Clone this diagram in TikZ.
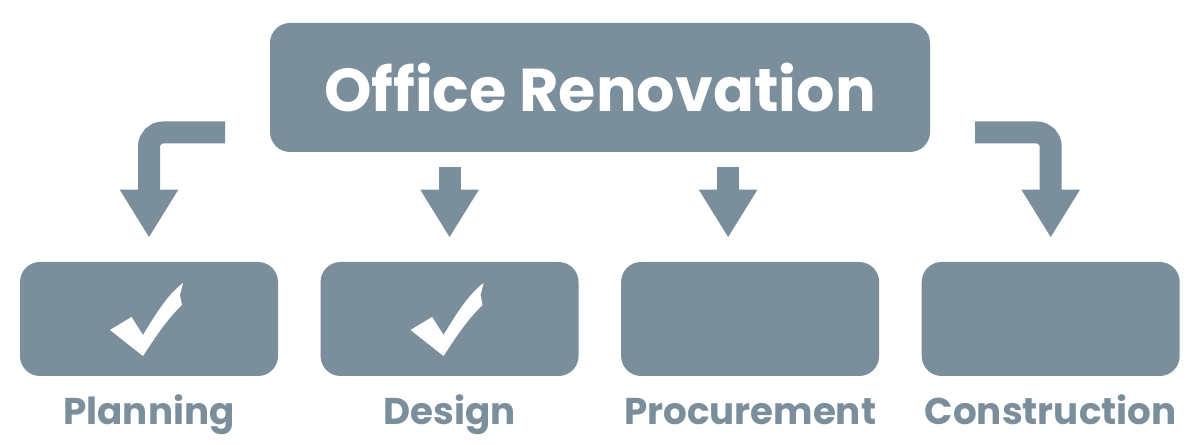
\documentclass[tikz,border=0pt]{standalone}
\usepackage{fontspec}
\setmainfont{Poppins}
\usetikzlibrary{arrows.meta,positioning}
\definecolor{renoslate}{RGB}{122,143,155}

\begin{document}
\begin{tikzpicture}[
 box/.style={fill=renoslate,rounded corners=0.5cm,minimum width=6.45cm,minimum height=2.85cm,inner sep=0pt},
 head/.style={box,minimum width=16.5cm,minimum height=3.225cm,text=white,font=\bfseries\fontsize{43}{48}\selectfont},
 lbl/.style={text=renoslate,font=\bfseries\fontsize{26.5}{30}\selectfont,anchor=base,inner sep=0pt},
 arr/.style={draw=renoslate,line width=0.55cm,rounded corners=0.35cm,-{Triangle[width=1.375cm,length=1.2cm]}},
 tick/.pic={\fill[white,x=0.025cm,y=0.025cm] (-39,-11) -- (-17.5,2) -- (-6,-16) .. controls (5,2) and (18,24) .. (34,36) -- (31,24) -- (33,14) .. controls (18,0) and (5,-20) .. (-6,-37) -- cycle;},
 node distance=1.05cm]
\useasboundingbox (0,0) rectangle (30,11.125);
\node[head] (reno) at (15,8.9375) {Office Renovation};
\node[box] (plan) at (3.725,3.15) {};
\node[box, right=of plan] (des) {};
\node[box, right=of des] (proc) {};
\node[box, right=of proc] (cons) {};
\pic at (plan.center) {tick};
\pic at (des.center) {tick};
\node[lbl] (planlbl) at ([yshift=-1.2cm]plan.south) {Planning};
\node[lbl] (deslbl) at ([yshift=-1.2cm]des.south) {Design};
\node[lbl] (proclbl) at ([yshift=-1.2cm]proc.south) {Procurement};
\node[lbl] (conslbl) at ([yshift=-1.2cm]cons.south) {Construction};
\coordinate (planin) at (5.625,7.8125);
\coordinate (consin) at (24.375,7.8125);
\draw[arr] (planin) -| ([yshift=0.6cm]plan.north);
\draw[arr] ([yshift=-0.375cm]reno.south -| des.north) -- ([yshift=0.6cm]des.north);
\draw[arr] ([xshift=-0.55cm,yshift=-0.375cm]reno.south -| proc.north) -- ([xshift=-0.55cm,yshift=0.6cm]proc.north);
\draw[arr] (consin) -| ([yshift=0.6cm]cons.north);
\end{tikzpicture}
\end{document}
